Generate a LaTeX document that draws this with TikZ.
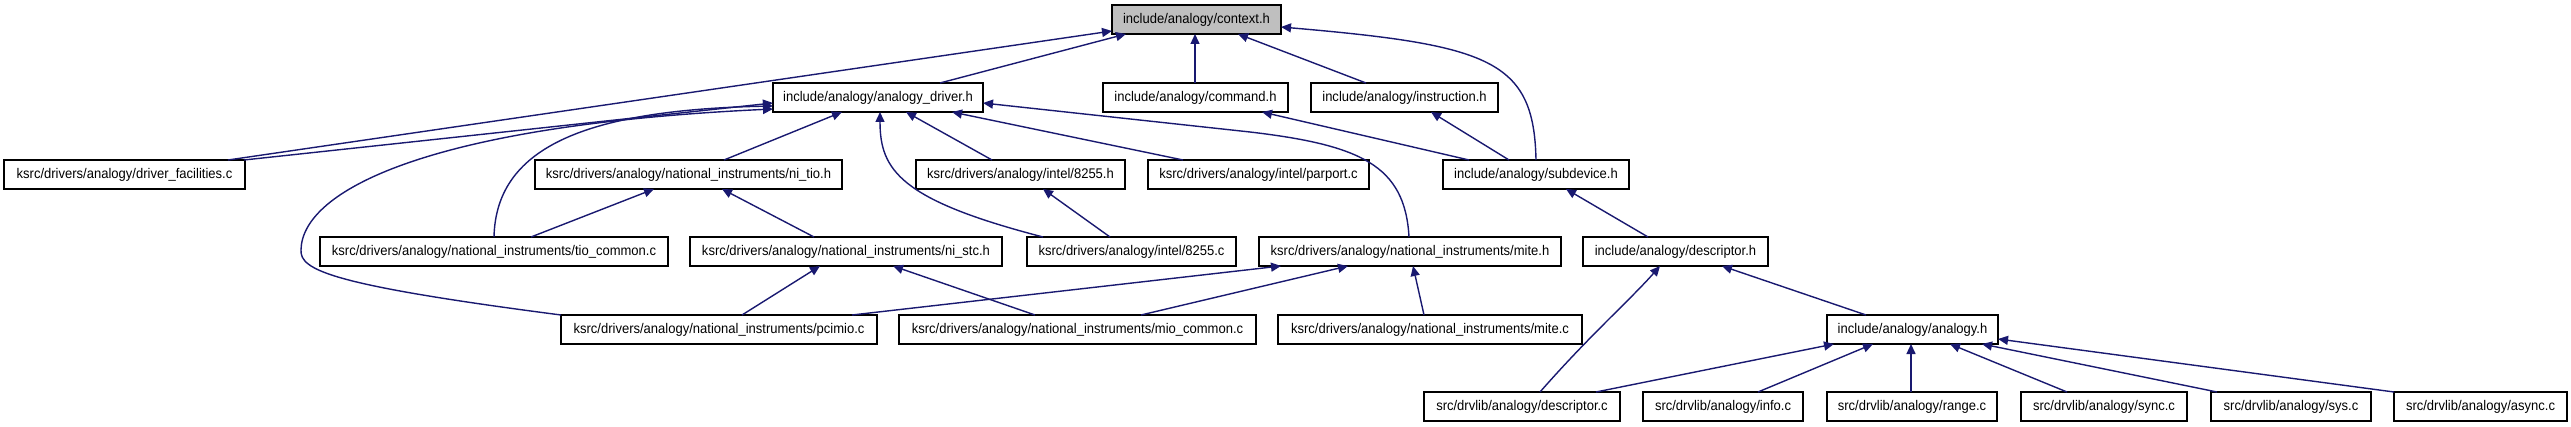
\documentclass[tikz,border=0pt]{standalone}
\usepackage{fontspec}
\setmainfont[FakeStretch=0.93]{Liberation Sans}
\usetikzlibrary{arrows.meta}
\definecolor{edgeblue}{HTML}{191970}
\definecolor{ctxgray}{HTML}{BFBFBF}
\tikzset{
  box/.style={draw=black,line width=1.4pt,fill=white,inner sep=0pt,outer sep=0pt,
    minimum height=29pt,font=\fontsize{14}{16}\selectfont},
  edge/.style={draw=edgeblue,line width=1.4pt,-{Triangle[length=10pt,width=9pt]}}
}
\newcommand\gbox[6][]{\node[box,#1,minimum width={(#4-#3)*1pt}] (#2) at ({(#3+#4)/2},{#5+14.5}) {#6};}
\begin{document}
\begin{tikzpicture}[x=1pt,y=-1pt]
\useasboundingbox (0,0) rectangle (2571,427);
% row 0
\gbox[fill=ctxgray]{ctx}{1112}{1281}{5}{include/analogy/context.h}
% row 1
\gbox{drv}{773}{983}{83}{include/analogy/analogy\_driver.h}
\gbox{cmd}{1103}{1288}{83}{include/analogy/command.h}
\gbox{ins}{1311}{1498}{83}{include/analogy/instruction.h}
% row 2
\gbox{fac}{4}{245}{160}{ksrc/drivers/analogy/driver\_facilities.c}
\gbox{tioh}{535}{842}{160}{ksrc/drivers/analogy/national\_instruments/ni\_tio.h}
\gbox{h8255}{916}{1125}{160}{ksrc/drivers/analogy/intel/8255.h}
\gbox{par}{1148}{1369}{160}{ksrc/drivers/analogy/intel/parport.c}
\gbox{sub}{1443}{1629}{160}{include/analogy/subdevice.h}
% row 3
\gbox{tioc}{320}{668}{237}{ksrc/drivers/analogy/national\_instruments/tio\_common.c}
\gbox{stc}{690}{1002}{237}{ksrc/drivers/analogy/national\_instruments/ni\_stc.h}
\gbox{c8255}{1027}{1236}{237}{ksrc/drivers/analogy/intel/8255.c}
\gbox{miteh}{1259}{1561}{237}{ksrc/drivers/analogy/national\_instruments/mite.h}
\gbox{desch}{1583}{1768}{237}{include/analogy/descriptor.h}
% row 4
\gbox{pci}{561}{877}{315}{ksrc/drivers/analogy/national\_instruments/pcimio.c}
\gbox{mio}{899}{1256}{315}{ksrc/drivers/analogy/national\_instruments/mio\_common.c}
\gbox{mitec}{1278}{1582}{315}{ksrc/drivers/analogy/national\_instruments/mite.c}
\gbox{ana}{1827}{1998}{315}{include/analogy/analogy.h}
% row 5
\gbox{descc}{1424}{1620}{392}{src/drvlib/analogy/descriptor.c}
\gbox{info}{1643}{1803}{392}{src/drvlib/analogy/info.c}
\gbox{range}{1827}{1997}{392}{src/drvlib/analogy/range.c}
\gbox{sync}{2021}{2187}{392}{src/drvlib/analogy/sync.c}
\gbox{sys}{2211}{2371}{392}{src/drvlib/analogy/sys.c}
\gbox{async}{2394}{2567}{392}{src/drvlib/analogy/async.c}
% edges to context.h
\draw[edge] (drv.north -| 940,0) -- (ctx.south -| 1126,0);
\draw[edge] (fac.north -| 228,0) -- (ctx.west |- 0,31);
\draw[edge] (cmd.north -| 1195,0) -- (ctx.south -| 1195,0);
\draw[edge] (ins.north -| 1366,0) -- (ctx.south -| 1238,0);
\draw[edge] (sub.north -| 1536,0) .. controls (1534,60) and (1490,45) .. (ctx.east |- 0,27);
% edges to analogy_driver.h
\draw[edge] (fac.north -| 244,0) -- (drv.west |- 0,103);
\draw[edge] (tioc.north -| 494,0) .. controls (496,150) and (580,110) .. (drv.west |- 0,106);
\draw[edge] (pci.north west) .. controls (330,285) and (300,270) .. (301,250) .. controls (302,190) and (430,125) .. (drv.west |- 0,109);
\draw[edge] (tioh.north -| 724,0) -- (drv.south -| 842,0);
\draw[edge] (c8255.north -| 1043,0) .. controls (900,200) and (880,170) .. (drv.south -| 880,0);
\draw[edge] (h8255.north -| 992,0) -- (drv.south -| 906,0);
\draw[edge] (par.north -| 1183,0) -- (drv.south -| 952,0);
\draw[edge] (miteh.north -| 1409,0) .. controls (1405,165) and (1360,145) .. (1250,132) -- (drv.east |- 0,103);
% edges to command.h / instruction.h / subdevice.h
\draw[edge] (sub.north -| 1469,0) -- (cmd.south -| 1262,0);
\draw[edge] (sub.north -| 1509,0) -- (ins.south -| 1431,0);
\draw[edge] (desch.north -| 1648,0) -- (sub.south -| 1566,0);
% ni_tio.h, 8255.h
\draw[edge] (tioc.north -| 531,0) -- (tioh.south -| 654,0);
\draw[edge] (stc.north -| 814,0) -- (tioh.south -| 722,0);
\draw[edge] (c8255.north -| 1110,0) -- (h8255.south -| 1043,0);
% ni_stc.h, mite.h
\draw[edge] (pci.north -| 742,0) -- (stc.south -| 820,0);
\draw[edge] (mio.north -| 1035,0) -- (stc.south -| 893,0);
\draw[edge] (pci.north -| 852,0) -- (miteh.south -| 1281,0);
\draw[edge] (mio.north -| 1141,0) -- (miteh.south -| 1348,0);
\draw[edge] (mitec.north -| 1424,0) -- (miteh.south -| 1413,0);
% descriptor.h
\draw[edge] (ana.north -| 1866,0) -- (desch.south -| 1722,0);
\draw[edge] (descc.north -| 1540,0) .. controls (1590,335) and (1630,300) .. (desch.south -| 1660,0);
% analogy.h
\draw[edge] (descc.north -| 1596,0) -- (ana.south -| 1834,0);
\draw[edge] (info.north -| 1758,0) -- (ana.south -| 1873,0);
\draw[edge] (range.north -| 1911,0) -- (ana.south -| 1911,0);
\draw[edge] (sync.north -| 2067,0) -- (ana.south -| 1950,0);
\draw[edge] (sys.north -| 2217,0) -- (ana.south -| 1982,0);
\draw[edge] (async.north -| 2394,0) -- (ana.east |- 0,339);
\end{tikzpicture}
\end{document}
